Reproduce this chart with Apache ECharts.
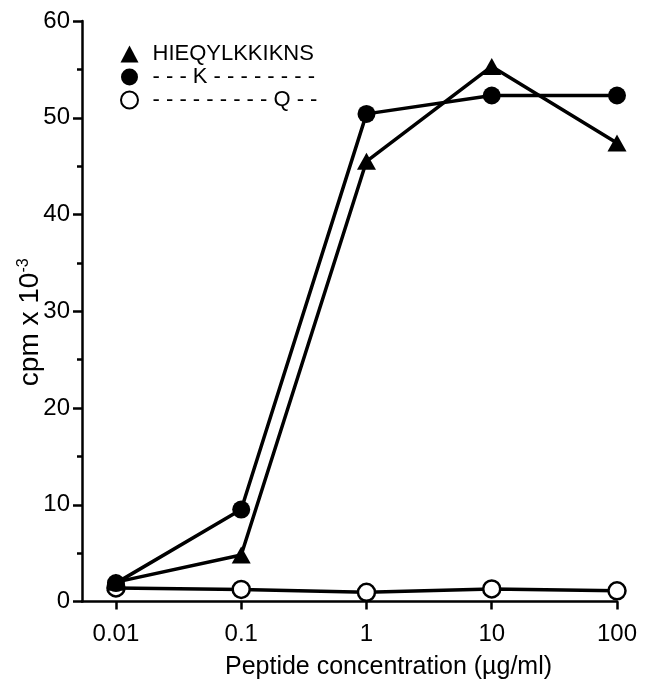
<!DOCTYPE html>
<html><head><meta charset="utf-8">
<script src="https://cdn.jsdelivr.net/npm/echarts@6/dist/echarts.min.js"></script>
<style>html,body{margin:0;padding:0;background:#fff}#c{width:649px;height:680px}</style>
</head><body><div id="c"></div>
<script>
const concentrations = [0.01, 0.1, 1, 10, 100];
const xTickLabels = ['0.01', '0.1', '1', '10', '100'];
const seriesNames = ['HIEQYLKKIKNS', '---K--------', '---------Q--'];
const wildType = [2.0, 4.8, 45.5, 55.3, 47.4];
const kVariant = [1.9, 9.5, 50.4, 52.3, 52.3];
const qVariant = [1.4, 1.25, 0.95, 1.3, 1.1];
const yMin = 0, yMax = 60, yStep = 10;

const logX = concentrations.map(c => Math.log10(c));
const FONT = 'Liberation Sans, Arial, Helvetica, sans-serif';
const chart = echarts.init(document.getElementById('c'));
function pts(vals) { return vals.map((v, i) => [logX[i], v]); }
const lineStyle = { color: '#000', width: 3.5 };
chart.setOption({
  animation: false,
  backgroundColor: '#fff',
  grid: { left: 82, right: 32, top: 21, bottom: 78.5, containLabel: false, outerBoundsMode: 'none' },
  legend: {
    orient: 'vertical', left: 115, top: 38, itemGap: 1,
    itemWidth: 18, itemHeight: 17,
    textStyle: { fontFamily: FONT, fontSize: 22, color: '#000', padding: [0, 0, 0, 9] },
    formatter: n => n === seriesNames[0] ? n : n.split('').join(' '),
    data: [
      { name: seriesNames[0], icon: 'triangle' },
      { name: seriesNames[1], icon: 'circle' },
      { name: seriesNames[2], icon: 'circle' }
    ]
  },
  xAxis: {
    type: 'value', min: logX[0] - 0.271, max: logX[logX.length - 1],
    splitLine: { show: false },
    axisLine: { onZero: false, lineStyle: { color: '#000', width: 2.5 } },
    axisTick: { show: true, length: 8, lineStyle: { color: '#000', width: 2.5 }, customValues: logX },
    axisLabel: {
      customValues: logX, margin: 21, fontFamily: FONT, fontSize: 24, color: '#000',
      formatter: v => { const i = logX.findIndex(x => Math.abs(x - v) < 1e-6); return i >= 0 ? xTickLabels[i] : ''; }
    },
    name: 'Peptide concentration (µg/ml)', nameLocation: 'middle', nameGap: 53, nameMoveOverlap: false,
    nameTextStyle: { fontFamily: FONT, fontSize: 25, color: '#000', padding: [0, 0, 0, 78] }
  },
  yAxis: {
    type: 'value', min: yMin, max: yMax, interval: yStep,
    splitLine: { show: false },
    axisLine: { onZero: false, lineStyle: { color: '#000', width: 2.5 } },
    axisTick: { length: 9, lineStyle: { color: '#000', width: 2.5 } },
    minorTick: { show: true, splitNumber: 2, length: 5, lineStyle: { color: '#000', width: 2.5 } },
    axisLabel: { margin: 12, fontFamily: FONT, fontSize: 24, color: '#000' },
    name: 'cpm x 10{s|-3}', nameLocation: 'middle', nameGap: 38, nameRotate: 90, nameMoveOverlap: false,
    nameTextStyle: { fontFamily: FONT, fontSize: 28, color: '#000', padding: [0, 22, 0, 0],
      rich: { s: { fontFamily: FONT, fontSize: 16, color: '#000', verticalAlign: 'top', padding: [0, 0, 11, 0] } } }
  },
  series: [
    { name: seriesNames[2], type: 'line', data: pts(qVariant), symbol: 'circle', symbolSize: 17,
      lineStyle, itemStyle: { color: '#fff', borderColor: '#000', borderWidth: 2.5 }, z: 2 },
    { name: seriesNames[1], type: 'line', data: pts(kVariant), symbol: 'circle', symbolSize: 18,
      lineStyle, itemStyle: { color: '#000', borderColor: '#000', borderWidth: 0 }, z: 3 },
    { name: seriesNames[0], type: 'line', data: pts(wildType), symbol: 'triangle', symbolSize: [19, 17],
      lineStyle, itemStyle: { color: '#000', borderColor: '#000', borderWidth: 0 }, z: 4 }
  ]
});
</script></body></html>
